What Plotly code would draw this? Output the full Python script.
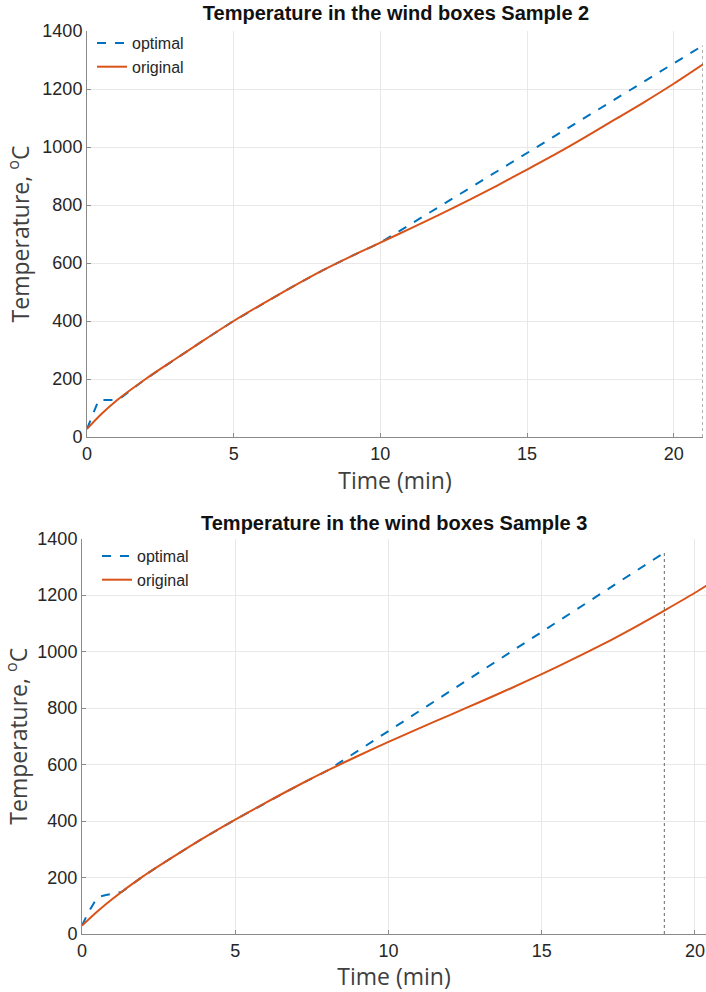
import plotly.graph_objects as go

# ---------------- data ----------------
# Sample 2 (top panel)
time_s2_original = [0, 0.5, 1, 2, 3, 4, 5, 6, 7, 8, 9, 10, 11, 12, 13, 14, 15, 16, 17, 18, 19, 20, 21]
temp_s2_original = [28, 80, 125, 200, 268, 335, 400, 460, 518, 573, 623, 670, 718, 766, 816, 868, 922, 977, 1035, 1095, 1155, 1218, 1285]
time_s2_optimal = [0, 0.4, 0.9, 1.15, 2, 3, 4, 5, 6, 7, 8, 9, 10, 21]
temp_s2_optimal = [28, 128, 128, 135, 200, 268, 335, 400, 460, 518, 573, 623, 670, 1350]
time_s2_end = [21, 21]
temp_s2_end = [0, 1350]

# Sample 3 (bottom panel)
time_s3_original = [0, 0.5, 1, 2, 3, 4, 5, 6, 7, 8, 9, 10, 11, 12, 13, 14, 15, 16, 17, 18, 19, 20, 20.5]
temp_s3_original = [30, 80, 125, 205, 275, 342, 405, 465, 523, 578, 630, 680, 728, 775, 822, 870, 920, 972, 1026, 1084, 1145, 1208, 1242]
time_s3_optimal = [0, 0.2, 0.5, 0.75, 1.3, 2, 3, 4, 5, 6, 7, 8, 19]
temp_s3_optimal = [30, 75, 130, 137, 149, 205, 275, 342, 405, 465, 523, 578, 1350]
time_s3_end = [19, 19]
temp_s3_end = [0, 1350]

x_ticks = [0, 5, 10, 15, 20]
y_ticks = [0, 200, 400, 600, 800, 1000, 1200, 1400]

titles = ["Temperature in the wind boxes Sample 2", "Temperature in the wind boxes Sample 3"]
x_title = "Time (min)"
y_title = "Temperature, <sup>o</sup>C"

BLUE = "#0072BD"
ORANGE = "#D95319"
W, H = 706, 992

fig = go.Figure()

def add_panel(t_opt, y_opt, t_org, y_org, t_end, y_end, xa, ya, legend):
    fig.add_trace(go.Scatter(x=t_opt, y=y_opt, mode="lines", name="optimal",
                             line=dict(color=BLUE, width=2, dash="dash"),
                             xaxis=xa, yaxis=ya, legend=legend))
    fig.add_trace(go.Scatter(x=t_org, y=y_org, mode="lines", name="original",
                             line=dict(color=ORANGE, width=2, shape="spline", smoothing=0.8),
                             xaxis=xa, yaxis=ya, legend=legend))
    fig.add_trace(go.Scatter(x=t_end, y=y_end, mode="lines", showlegend=False,
                             line=dict(color="#666666", width=1, dash="dot"),
                             xaxis=xa, yaxis=ya))

add_panel(time_s2_optimal, temp_s2_optimal, time_s2_original, temp_s2_original,
          time_s2_end, temp_s2_end, "x", "y", "legend")
add_panel(time_s3_optimal, temp_s3_optimal, time_s3_original, temp_s3_original,
          time_s3_end, temp_s3_end, "x2", "y2", "legend2")

tick_font = dict(family="Liberation Sans, Arial", size=18, color="#262626")
title_font = dict(family="Open Sans", size=23, color="#404040")

def xaxis(dom, rng, anchor):
    return dict(domain=dom, range=rng, anchor=anchor, tickvals=x_ticks,
                showgrid=True, gridcolor="#e8e8e8", gridwidth=1,
                showline=True, linecolor="#8a8a8a", linewidth=1, mirror=False,
                ticks="inside", ticklen=4, tickcolor="#8a8a8a",
                tickfont=tick_font, zeroline=False, automargin=False,
                title=dict(text=x_title, font=title_font, standoff=0))

def yaxis(dom, anchor):
    return dict(domain=dom, range=[0, 1400], anchor=anchor, tickvals=y_ticks,
                showgrid=True, gridcolor="#e8e8e8", gridwidth=1,
                showline=True, linecolor="#8a8a8a", linewidth=1, mirror=False,
                ticks="inside", ticklen=4, tickcolor="#8a8a8a",
                tickfont=tick_font, zeroline=False, automargin=False,
                title=dict(text=y_title, font=title_font, standoff=6))

legend_font = dict(family="Liberation Sans, Arial", size=16, color="#262626")

fig.update_layout(
    width=W, height=H,
    margin=dict(l=0, r=0, t=0, b=0),
    paper_bgcolor="white", plot_bgcolor="white",
    xaxis=xaxis([87 / W, 703 / W], [0, 21], "y"),
    yaxis=yaxis([1 - 437 / H, 1 - 31 / H], "x"),
    xaxis2=xaxis([82 / W, 1.0], [0, 20.36], "y2"),
    yaxis2=yaxis([1 - 934 / H, 1 - 538.5 / H], "x2"),
    legend=dict(x=92 / W, y=1 - 26 / H, xanchor="left", yanchor="top",
                bgcolor="rgba(255,255,255,0)", font=legend_font, tracegroupgap=0),
    legend2=dict(x=97 / W, y=1 - 539 / H, xanchor="left", yanchor="top",
                 bgcolor="rgba(255,255,255,0)", font=legend_font, tracegroupgap=0),
    title=dict(text="<b>" + titles[0] + "</b>", x=396 / W, xanchor="center",
               y=1 - 13 / H, yanchor="middle",
               font=dict(family="Liberation Sans, Arial", size=20, color="#111111")),
    annotations=[dict(text="<b>" + titles[1] + "</b>", xref="paper", yref="paper",
                      x=394 / W, y=1 - 523 / H, xanchor="center", yanchor="middle",
                      showarrow=False,
                      font=dict(family="Liberation Sans, Arial", size=20, color="#111111"))],
    showlegend=True,
)

fig.write_html("out.html", config={"displayModeBar": False},
               post_script="document.body.style.margin='0';")
